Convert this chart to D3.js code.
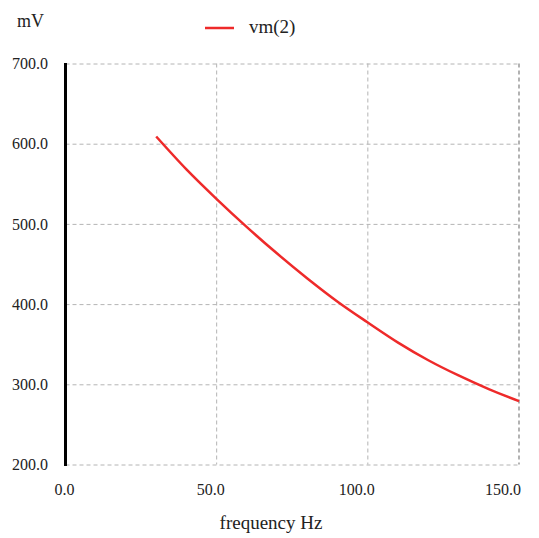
<!DOCTYPE html>
<html>
<head>
<meta charset="utf-8">
<script src="https://cdn.jsdelivr.net/npm/d3@7"></script>
<style>
  html, body { margin: 0; padding: 0; background: #fff; }
  svg { display: block; }
  svg text { font-family: "Liberation Serif", "Times New Roman", serif; }
</style>
</head>
<body>
<svg id="chart" width="539" height="538"></svg>
<script>
// Frequency sweep of node voltage vm(2)
const freqHz = [30, 40, 50, 60, 70, 80, 90, 100, 110, 120, 130, 140, 150];
const vm2 = [609, 568, 531, 496, 463, 432, 403, 377, 352, 330, 311, 294, 279];

const xTicks = [0, 50, 100, 150];
const yTicks = [200, 300, 400, 500, 600, 700];
const xTickLabels = ["0.0", "50.0", "100.0", "150.0"];
const yTickLabels = ["200.0", "300.0", "400.0", "500.0", "600.0", "700.0"];

const seriesName = "vm(2)";
const yUnit = "mV";
const xTitle = "frequency Hz";

const serif = "Liberation Serif, Times New Roman, serif";
const svg = d3.select("#chart");
const plotLeft = 65.5, plotRight = 519, plotTop = 63.5, plotBottom = 464.5;

const x = d3.scaleLinear().domain([0, 150]).range([plotLeft, plotRight]);
const y = d3.scaleLinear().domain([200, 700]).range([plotBottom, plotTop]);
// tick labels sit on a slightly compressed track under the plot
const xLabel = d3.scaleLinear().domain([0, 150]).range([64.5, 503]);

const grid = svg.append("g")
  .attr("stroke", "#b4b4b4")
  .attr("stroke-width", 1)
  .attr("stroke-dasharray", "4,3")
  .attr("fill", "none");

grid.selectAll("line.h").data(yTicks).join("line")
  .attr("class", "h")
  .attr("x1", plotLeft).attr("x2", plotRight)
  .attr("y1", d => y(d) + 0.5).attr("y2", d => y(d) + 0.5);

grid.selectAll("line.v").data(xTicks.filter(d => d > 0)).join("line")
  .attr("class", "v")
  .attr("x1", d => x(d)).attr("x2", d => x(d))
  .attr("y1", plotTop).attr("y2", plotBottom)
  .attr("stroke-width", d => d === 150 ? 1.6 : 1)
  .attr("stroke", d => d === 150 ? "#a0a0a0" : "#b4b4b4");

// heavy vertical axis at f = 0
svg.append("line")
  .attr("x1", x(0)).attr("x2", x(0))
  .attr("y1", plotTop - 0.5).attr("y2", plotBottom + 1.5)
  .attr("stroke", "#000").attr("stroke-width", 3);

// y tick labels
svg.append("g").selectAll("text").data(yTicks).join("text")
  .attr("x", 48)
  .attr("y", d => y(d))
  .attr("dy", "0.35em")
  .attr("text-anchor", "end")
  .attr("font-family", serif)
  .attr("font-size", 16)
  .attr("fill", "#222")
  .text((d, i) => yTickLabels[i]);

// x tick labels
svg.append("g").selectAll("text").data(xTicks).join("text")
  .attr("x", d => xLabel(d))
  .attr("y", 495)
  .attr("text-anchor", "middle")
  .attr("font-family", serif)
  .attr("font-size", 16)
  .attr("fill", "#222")
  .text((d, i) => xTickLabels[i]);

// curve
const line = d3.line()
  .x((d, i) => x(freqHz[i]))
  .y(d => y(d))
  .curve(d3.curveMonotoneX);

svg.append("path")
  .datum(vm2)
  .attr("d", line)
  .attr("fill", "none")
  .attr("stroke", "#ee2a2a")
  .attr("stroke-width", 2.5);

// unit label
svg.append("text")
  .attr("x", 17).attr("y", 27)
  .attr("font-family", serif)
  .attr("font-size", 18)
  .attr("fill", "#222")
  .text(yUnit);

// legend
svg.append("line")
  .attr("x1", 205).attr("x2", 234)
  .attr("y1", 28).attr("y2", 28)
  .attr("stroke", "#ee2a2a").attr("stroke-width", 2.5);
svg.append("text")
  .attr("x", 249).attr("y", 33)
  .attr("font-family", serif)
  .attr("font-size", 19)
  .attr("fill", "#222")
  .text(seriesName);

// x axis title
svg.append("text")
  .attr("x", 271).attr("y", 529)
  .attr("text-anchor", "middle")
  .attr("font-family", serif)
  .attr("font-size", 19)
  .attr("fill", "#222")
  .text(xTitle);
</script>
</body>
</html>
